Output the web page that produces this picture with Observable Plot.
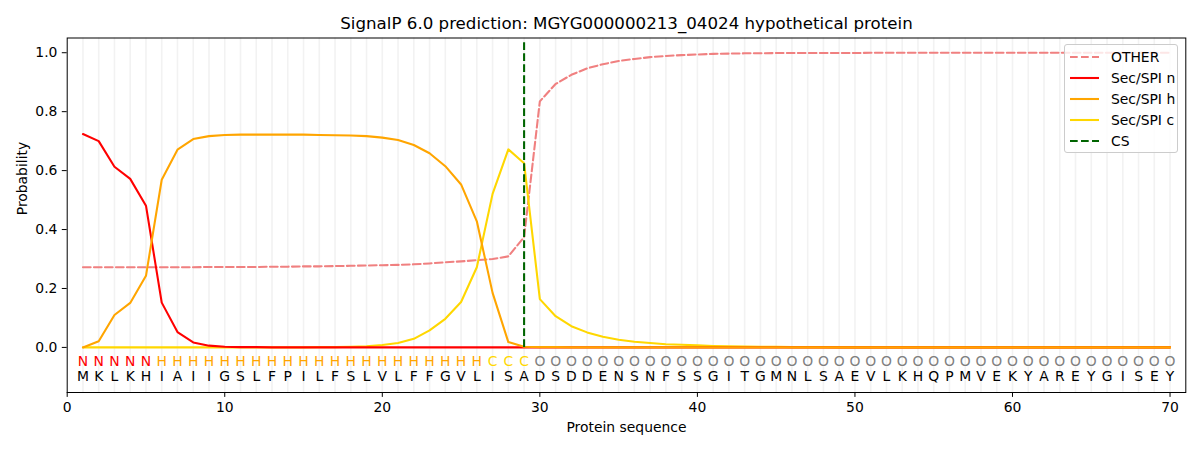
<!DOCTYPE html>
<html>
<head>
<meta charset="utf-8">
<script src="https://cdn.jsdelivr.net/npm/d3@7"></script>
<script src="https://cdn.jsdelivr.net/npm/@observablehq/plot@0.6"></script>
<style>
  body { margin: 0; background: #fff; }
  #wrap { position: relative; width: 1200px; height: 450px; font-family: "DejaVu Sans", sans-serif; }
  #legend { position: absolute; left: 1064px; top: 44px; width: 112px; height: 107px;
            border: 1px solid #cccccc; border-radius: 3px; background: rgba(255,255,255,0.8);
            font-size: 13.9px; color: #000; }
  .lrow { position: absolute; left: 0; height: 20px; display: flex; align-items: center; }
  .lrow svg { margin-left: 5px; }
  .lrow span { margin-left: 12px; white-space: nowrap; }
</style>
</head>
<body>
<div id="wrap"></div>
<script>
const titleText = "SignalP 6.0 prediction: MGYG000000213_04024 hypothetical protein";
const sequence = "MKLKHIAIIGSLFPILFSLVLFFGVLISADSDDENSNFSSGITGMNLSAEVLKHQPMVEKYAREYGISEY".split("");
const labels = "NNNNNHHHHHHHHHHHHHHHHHHHHHCCCOOOOOOOOOOOOOOOOOOOOOOOOOOOOOOOOOOOOOOOOO".split("");
const positions = sequence.map((_, i) => i + 1);

const other = [
  0.272, 0.272, 0.272, 0.272, 0.272, 0.272, 0.272, 0.272, 0.273, 0.273,
  0.273, 0.273, 0.274, 0.274, 0.275, 0.275, 0.276, 0.277, 0.278, 0.279,
  0.280, 0.282, 0.285, 0.289, 0.292, 0.296, 0.300, 0.309, 0.374, 0.835,
  0.894, 0.925, 0.947, 0.961, 0.972, 0.979, 0.985, 0.989, 0.992, 0.994,
  0.996, 0.997, 0.998, 0.998, 0.999, 0.999, 0.999, 0.999, 0.999, 0.999,
  1.000, 1.000, 1.000, 1.000, 1.000, 1.000, 1.000, 1.000, 1.000, 1.000,
  1.000, 1.000, 1.000, 1.000, 1.000, 1.000, 1.000, 1.000, 1.000, 1.000
];
const secN = [
  0.724, 0.700, 0.613, 0.572, 0.481, 0.152, 0.052, 0.017, 0.006, 0.002,
  0.001, 0.001, 0.000, 0.000, 0.000, 0.000, 0.000, 0.000, 0.000, 0.000,
  0.000, 0.000, 0.000, 0.000, 0.000, 0.000, 0.000, 0.000, 0.000, 0.000,
  0.000, 0.000, 0.000, 0.000, 0.000, 0.000, 0.000, 0.000, 0.000, 0.000,
  0.000, 0.000, 0.000, 0.000, 0.000, 0.000, 0.000, 0.000, 0.000, 0.000,
  0.000, 0.000, 0.000, 0.000, 0.000, 0.000, 0.000, 0.000, 0.000, 0.000,
  0.000, 0.000, 0.000, 0.000, 0.000, 0.000, 0.000, 0.000, 0.000, 0.000
];
const secH = [
  0.000, 0.021, 0.110, 0.151, 0.243, 0.569, 0.671, 0.707, 0.717, 0.721,
  0.722, 0.722, 0.722, 0.722, 0.722, 0.721, 0.720, 0.719, 0.717, 0.712,
  0.704, 0.687, 0.659, 0.615, 0.553, 0.428, 0.185, 0.018, 0.002, 0.001,
  0.001, 0.000, 0.000, 0.000, 0.000, 0.000, 0.000, 0.000, 0.000, 0.000,
  0.000, 0.000, 0.000, 0.000, 0.000, 0.000, 0.000, 0.000, 0.000, 0.000,
  0.000, 0.000, 0.000, 0.000, 0.000, 0.000, 0.000, 0.000, 0.000, 0.000,
  0.000, 0.000, 0.000, 0.000, 0.000, 0.000, 0.000, 0.000, 0.000, 0.000
];
const secC = [
  0.000, 0.000, 0.000, 0.000, 0.000, 0.000, 0.000, 0.000, 0.000, 0.000,
  0.000, 0.000, 0.000, 0.000, 0.000, 0.001, 0.001, 0.002, 0.004, 0.008,
  0.015, 0.029, 0.058, 0.097, 0.154, 0.272, 0.521, 0.672, 0.625, 0.164,
  0.106, 0.072, 0.051, 0.036, 0.026, 0.019, 0.015, 0.011, 0.009, 0.007,
  0.005, 0.004, 0.003, 0.002, 0.002, 0.001, 0.001, 0.001, 0.000, 0.000,
  0.000, 0.000, 0.000, 0.000, 0.000, 0.000, 0.000, 0.000, 0.000, 0.000,
  0.000, 0.000, 0.000, 0.000, 0.000, 0.000, 0.000, 0.000, 0.000, 0.000
];
const csPosition = 29;
const xTicks = [0, 10, 20, 30, 40, 50, 60, 70];
const yTicks = [0, 0.2, 0.4, 0.6, 0.8, 1.0];
const labelColors = { N: "red", H: "orange", C: "gold", O: "gray" };
const legendItems = [
  { name: "OTHER", color: "lightcoral", dash: true },
  { name: "Sec/SPI n", color: "red", dash: false },
  { name: "Sec/SPI h", color: "orange", dash: false },
  { name: "Sec/SPI c", color: "gold", dash: false },
  { name: "CS", color: "darkgreen", dash: true }
];

const rows = positions.map((p, i) => ({
  pos: p, aa: sequence[i], label: labels[i],
  other: other[i], n: secN[i], h: secH[i], c: secC[i]
}));

const lw = 2.08;
const dash = "7.7,3.3";

const chart = Plot.plot({
  width: 1200,
  height: 450,
  marginLeft: 66.7,
  marginRight: 14.7,
  marginTop: 37.5,
  marginBottom: 58,
  style: { fontFamily: "DejaVu Sans, sans-serif", fontSize: "13.9px", background: "#fff", color: "#000" },
  x: { domain: [0, 71] },
  y: { domain: [-0.153, 1.05] },
  color: { type: "identity" },
  marks: [
    Plot.ruleX(positions, { stroke: "#f2f2f2", strokeWidth: 1.6 }),
    Plot.line(rows, { x: "pos", y: "other", stroke: "lightcoral", strokeWidth: lw, strokeDasharray: dash }),
    Plot.line(rows, { x: "pos", y: "c", stroke: "gold", strokeWidth: lw }),
    Plot.line(rows, { x: "pos", y: "n", stroke: "red", strokeWidth: lw }),
    Plot.line(rows, { x: "pos", y: "h", stroke: "orange", strokeWidth: lw }),
    Plot.ruleX([csPosition], { y1: 0, y2: 1.04, stroke: "darkgreen", strokeWidth: lw, strokeDasharray: dash }),
    Plot.text(rows, { x: "pos", y: -0.047, text: "label", fill: d => labelColors[d.label], fontSize: 13.9 }),
    Plot.text(rows, { x: "pos", y: -0.1, text: "aa", fill: "#000", fontSize: 13.9 }),
    Plot.axisX({ ticks: xTicks, tickSize: 4.9, tickPadding: 4.9, label: null, tickFormat: d3.format("d") }),
    Plot.axisY({ ticks: yTicks, tickSize: 4.9, tickPadding: 4.9, label: null, tickFormat: d3.format(".1f") }),
    Plot.frame({ stroke: "#000", strokeWidth: 1 }),
    Plot.text([titleText], { text: d => d, frameAnchor: "top", lineAnchor: "middle", dy: -14.5, fontSize: 16.67, fill: "#000" }),
    Plot.text(["Protein sequence"], { text: d => d, frameAnchor: "bottom", lineAnchor: "middle", dy: 35, fontSize: 13.9, fill: "#000" }),
    Plot.text(["Probability"], { text: d => d, frameAnchor: "left", dx: -45, rotate: -90, fontSize: 13.9, fill: "#000" })
  ]
});

const wrap = document.getElementById("wrap");
wrap.appendChild(chart);

const legend = document.createElement("div");
legend.id = "legend";
legendItems.forEach((item, i) => {
  const row = document.createElement("div");
  row.className = "lrow";
  row.style.top = (2.2 + i * 20.9) + "px";
  row.innerHTML = `<svg width="29" height="6"><line x1="0" y1="3" x2="29" y2="3" stroke="${item.color}" stroke-width="${lw}" ${item.dash ? `stroke-dasharray="${dash}"` : ""}/></svg><span>${item.name}</span>`;
  legend.appendChild(row);
});
wrap.appendChild(legend);
</script>
</body>
</html>
